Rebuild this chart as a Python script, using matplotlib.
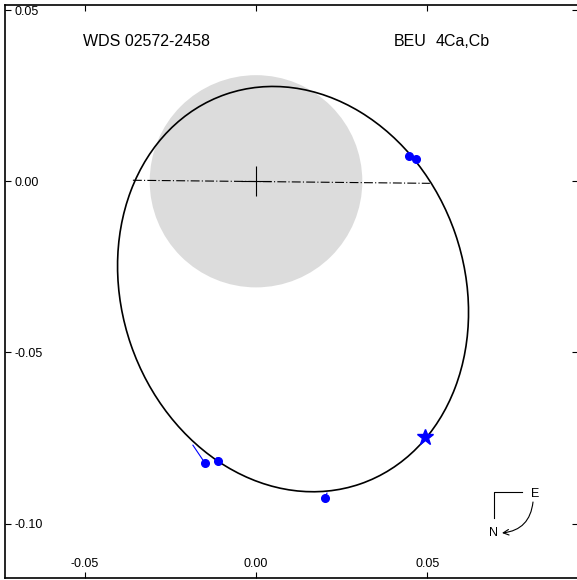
import matplotlib
matplotlib.use('Agg')
import matplotlib.pyplot as plt
from matplotlib.patches import Ellipse, Circle

plt.rcParams['font.family'] = ['Liberation Sans', 'DejaVu Sans']

# orbit (apparent ellipse) parameters, arcsec
orbCenter = (0.0108, -0.0315)
orbMinor = 0.1000
orbMajor = 0.1204
orbAngle = 19.0

# primary resolution circle
circRadius = 0.031

# line of nodes
nodesX = [-0.0359, 0.0507]
nodesY = [0.0003, -0.0006]

# observations and predicted positions
obsX = [0.0446, 0.0466, -0.0149, -0.0111, 0.0201]
obsY = [0.0073, 0.0064, -0.0823, -0.0817, -0.0925]
predX = [0.0449, 0.0469, -0.0184, -0.0114, 0.0207]
predY = [0.0070, 0.0061, -0.0771, -0.0808, -0.0911]

# speckle / special point
starX = [0.0493]
starY = [-0.0747]

xticks = [-0.05, 0.00, 0.05]
yticks = [0.05, 0.00, -0.05, -0.10]
xlim = (-0.0732, 0.0939)
ylim = (-0.1159, 0.0515)

fig = plt.figure(figsize=(5.77, 5.80), dpi=100)
ax = fig.add_axes([5/577, 2/580, 573/577, 573/580])
ax.set_xlim(xlim)
ax.set_ylim(ylim)

ax.add_patch(Circle((0, 0), circRadius, facecolor='#dcdcdc', edgecolor='none', zorder=1))
ax.plot([0], [0], marker='+', color='black', markersize=22, mew=0.8, zorder=3)
ax.plot(nodesX, nodesY, color='black', lw=0.8, linestyle=(0, (8, 2, 1, 2)), zorder=2)
ax.add_patch(Ellipse(orbCenter, orbMinor, orbMajor, angle=orbAngle,
                     facecolor='none', edgecolor='black', lw=1.2, zorder=3))

for i in range(len(obsX)):
    ax.plot([obsX[i], predX[i]], [obsY[i], predY[i]], color='blue', lw=0.8, zorder=4)
ax.plot(obsX, obsY, 'o', color='blue', markersize=5.5, zorder=5)
ax.plot(starX, starY, '*', color='blue', markersize=12, zorder=5)

ax.set_xticks(xticks)
ax.set_yticks(yticks)
ax.set_xticklabels(['%.2f' % v for v in xticks])
ax.set_yticklabels(['%.2f' % v for v in yticks])
ax.tick_params(axis='both', direction='in', length=4, width=0.8, labelsize=9,
               top=True, right=True)
ax.tick_params(axis='y', pad=-7)
ax.tick_params(axis='x', pad=-6)
for lab in ax.get_yticklabels():
    lab.set_horizontalalignment('left')
for lab in ax.get_xticklabels():
    lab.set_verticalalignment('bottom')
for sp in ax.spines.values():
    sp.set_linewidth(1.2)

ax.text(78/573, (578-42)/573, 'WDS 02572-2458', transform=ax.transAxes,
        fontsize=11.5, va='center', ha='left')
ax.text(389/573, (578-42)/573, 'BEU', transform=ax.transAxes,
        fontsize=11.5, va='center', ha='left')
ax.text(431/573, (578-42)/573, '4Ca,Cb', transform=ax.transAxes,
        fontsize=11.5, va='center', ha='left')

# compass
def axpt(px, py):
    return ((px - 5) / 573, (578 - py) / 573)

ax.plot(*zip(axpt(522, 492), axpt(494, 492), axpt(494, 518)), transform=ax.transAxes,
        color='black', lw=0.8)
ax.text(*axpt(535, 494), 'E', transform=ax.transAxes, fontsize=9, ha='center', va='center')
ax.text(*axpt(494, 533), 'N', transform=ax.transAxes, fontsize=9, ha='center', va='center')
ax.annotate('', xy=axpt(502, 533), xycoords='axes fraction',
            xytext=axpt(533, 502), textcoords='axes fraction',
            arrowprops=dict(arrowstyle='->', lw=0.8, color='black',
                            connectionstyle='arc3,rad=-0.4', shrinkA=0, shrinkB=0))

fig.savefig('out.png', dpi=100)
